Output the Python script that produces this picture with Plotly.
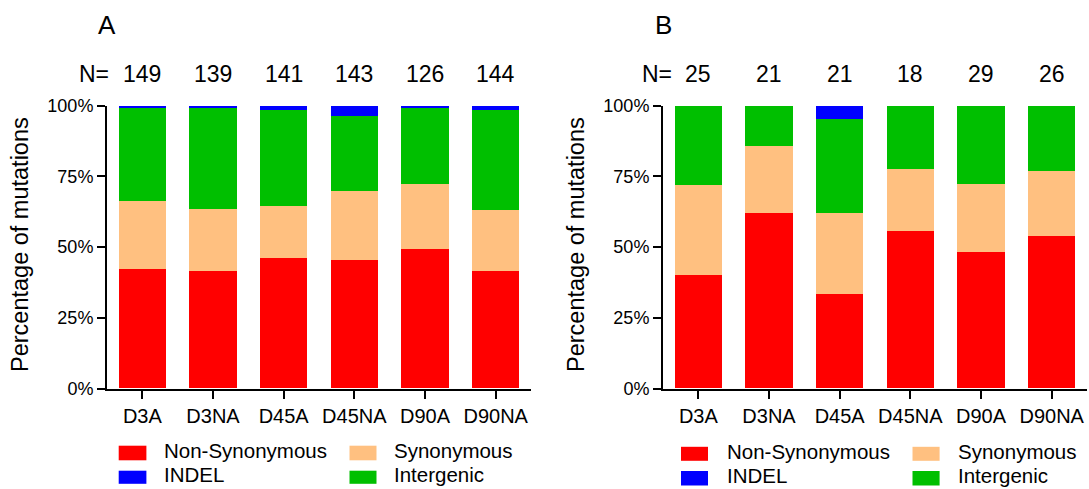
import plotly.graph_objects as go

W, H = 1089, 489

samples = ["D3A", "D3NA", "D45A", "D45NA", "D90A", "D90NA"]
categories = ["Non-Synonymous", "Synonymous", "Intergenic", "INDEL"]
colors = {"Non-Synonymous": "#ff0000", "Synonymous": "#ffc080",
          "Intergenic": "#00bf00", "INDEL": "#0000ff"}

# mutation counts per sample, panel A
a_nonsyn = [63, 58, 65, 65, 62, 60]
a_syn = [36, 30, 26, 35, 29, 31]
a_interg = [49, 50, 48, 38, 34, 51]
a_indel = [1, 1, 2, 5, 1, 2]
a_total = [149, 139, 141, 143, 126, 144]

# mutation counts per sample, panel B
b_nonsyn = [10, 13, 7, 10, 14, 14]
b_syn = [8, 5, 6, 4, 7, 6]
b_interg = [7, 3, 7, 4, 8, 6]
b_indel = [0, 0, 1, 0, 0, 0]
b_total = [25, 21, 21, 18, 29, 26]

y_ticks = [0, 25, 50, 75, 100]
y_ticktext = ["0%", "25%", "50%", "75%", "100%"]

FONT = "Arial, Liberation Sans, sans-serif"


def px(x):
    return x / W


def py(y):
    return 1 - y / H


def label(text, x, y, size, xref="paper", xanchor="center", **kw):
    fig.add_annotation(text=text, x=x, y=y, xref=xref, yref="paper",
                       xanchor=xanchor, yanchor="middle", showarrow=False,
                       font=dict(size=size, family=FONT, color="black"), **kw)


fig = go.Figure()

panels = [
    ("x", "y", [a_nonsyn, a_syn, a_interg, a_indel], a_total, "A", 0),
    ("x2", "y2", [b_nonsyn, b_syn, b_interg, b_indel], b_total, "B", 556),
]

for xa, ya, series, totals, letter, off in panels:
    for name, vals in zip(categories, series):
        fig.add_trace(go.Bar(
            x=samples, y=vals, name=name, xaxis=xa, yaxis=ya,
            marker=dict(color=colors[name], line=dict(width=0)),
            width=0.67, showlegend=False,
        ))
    # panel letter
    label(letter, px(107 + off), py(25), 26)
    # sample sizes above the bars
    for s, n in zip(samples, totals):
        label(str(n), s, py(74), 23, xref=xa)
    half = len(str(totals[0])) * 12.8 / 2
    label("N=", samples[0], py(74), 23, xref=xa, xanchor="right", xshift=-(half + 12))
    # y-axis title
    label("Percentage of mutations", px(20 + off), py(245), 23.5, textangle=-90)

# legends below each panel
legend_layout = [
    ([(118.7, 146.4, 162), (349.5, 376.5, 391.7)], [(445.7, 460.3), (470.7, 483.8)]),
    ([(681, 708, 725), (912.5, 939.6, 955.5)], [(446.8, 460.8), (471, 485.5)]),
]
legend_order = [["Non-Synonymous", "Synonymous"], ["INDEL", "Intergenic"]]
for cols, rows in legend_layout:
    for r, (y0, y1) in enumerate(rows):
        for c, (x0, x1, tx) in enumerate(cols):
            name = legend_order[r][c]
            fig.add_shape(type="rect", xref="paper", yref="paper",
                          x0=px(x0), x1=px(x1), y0=py(y1), y1=py(y0),
                          fillcolor=colors[name], line=dict(width=0))
            label(name, px(tx), py((y0 + y1) / 2 - 2.5), 20.5, xanchor="left")

axis_common = dict(showline=True, linecolor="black", linewidth=2, ticks="outside",
                   tickcolor="black", tickwidth=2, ticklen=8, showgrid=False,
                   zeroline=False)
xaxis_style = dict(axis_common, range=[-0.5, 5.5],
                   tickfont=dict(size=20, family=FONT, color="black"))
yaxis_style = dict(axis_common, range=[0, 100], tickmode="array", tickvals=y_ticks,
                   ticktext=y_ticktext,
                   tickfont=dict(size=18, family=FONT, color="black"))

y_dom = [py(388.5), py(105.7)]
fig.update_layout(
    width=W, height=H,
    margin=dict(l=0, r=0, t=0, b=0, autoexpand=False),
    paper_bgcolor="white", plot_bgcolor="white",
    barmode="stack", barnorm="percent", bargap=0.33,
    xaxis=dict(xaxis_style, domain=[px(107), px(531)], anchor="y"),
    yaxis=dict(yaxis_style, domain=y_dom, anchor="x"),
    xaxis2=dict(xaxis_style, domain=[px(663), px(1087)], anchor="y2"),
    yaxis2=dict(yaxis_style, domain=y_dom, anchor="x2"),
    showlegend=False,
)

fig.write_html("out.html")
